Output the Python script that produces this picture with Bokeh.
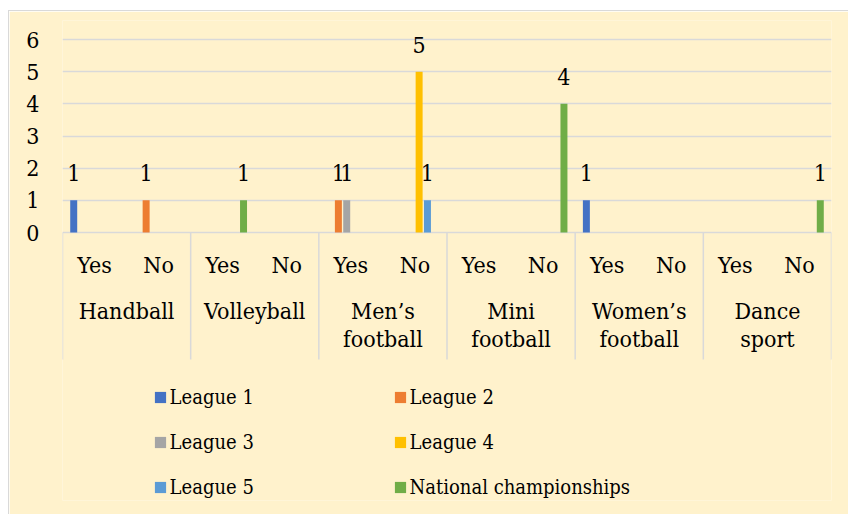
from bokeh.plotting import figure
from bokeh.models import ColumnDataSource, FactorRange, Legend, LegendItem, Range1d
from bokeh.transform import dodge
from bokeh.core.properties import value
from bokeh.embed import file_html
from bokeh.resources import INLINE

# ---------------- data ----------------
sports = ["Handball", "Volleyball", "Men’s football", "Mini football",
          "Women’s football", "Dance sport"]
sport_labels = ["Handball", "Volleyball", "Men’s\nfootball", "Mini\nfootball",
                "Women’s\nfootball", "Dance\nsport"]
answers = ["Yes", "No"]

series_names = ["League 1", "League 2", "League 3", "League 4", "League 5",
                "National championships"]
series_colors = ["#4472C4", "#ED7D31", "#A5A5A5", "#FFC000", "#5B9BD5", "#70AD47"]

#            Handball  Volleyball  Men's fb   Mini fb    Women's fb  Dance
league_1 = [1, 0,     0, 0,       0, 0,      0, 0,      1, 0,       0, 0]
league_2 = [0, 1,     0, 0,       1, 0,      0, 0,      0, 0,       0, 0]
league_3 = [0, 0,     0, 0,       1, 0,      0, 0,      0, 0,       0, 0]
league_4 = [0, 0,     0, 0,       0, 5,      0, 0,      0, 0,       0, 0]
league_5 = [0, 0,     0, 0,       0, 1,      0, 0,      0, 0,       0, 0]
national = [0, 0,     1, 0,       0, 0,      0, 4,      0, 0,       0, 1]
series_values = [league_1, league_2, league_3, league_4, league_5, national]

y_ticks = [0, 1, 2, 3, 4, 5, 6]

# ---------------- styling / layout ----------------
FONT = "DejaVu Serif Condensed, DejaVu Serif"
FS_MAIN = "23px"
FS_LEGEND = "20px"
BG = "#FFF2CC"
GRID = "#D9D9D9"
TXT = "#000000"

PX = 193 / 6.0                  # pixels per value unit
Y_TOP = (232 - 20) / PX
Y_BOTTOM = -(500 - 232) / PX
Y_SUB = -(264 - 232) / PX       # centre of Yes/No
Y_GROUP = -(297 - 232) / PX     # top of group labels
Y_DIV = -(359 - 232) / PX       # bottom of divider lines

BAR_STEP = 0.13
BAR_W = 0.109

factors = [(s, a) for s in sports for a in answers]

p = figure(width=840, height=504,
           x_range=FactorRange(*factors, factor_padding=0, subgroup_padding=0,
                               group_padding=0, range_padding=0),
           y_range=Range1d(Y_BOTTOM, Y_TOP),
           output_backend="svg", toolbar_location=None, x_axis_location=None,
           min_border_left=53, min_border_right=18, min_border_top=9,
           min_border_bottom=15)
p.styles = {"margin-left": "8px", "margin-top": "10px",
            "border-left": "1px solid #D9D9D9", "border-top": "1px solid #D9D9D9"}
p.background_fill_color = BG
p.border_fill_color = BG
p.outline_line_color = None

p.xgrid.visible = False
p.ygrid.ticker = y_ticks
p.ygrid.grid_line_color = GRID
p.ygrid.grid_line_width = 1.5

yax = p.yaxis[0]
yax.ticker = y_ticks
yax.axis_line_color = None
yax.major_tick_line_color = None
yax.minor_tick_line_color = None
yax.major_tick_out = 0
yax.major_label_standoff = 23
yax.major_label_text_font = FONT
yax.major_label_text_font_size = FS_MAIN
yax.major_label_text_color = TXT

# divider lines of the category axis
div_src = ColumnDataSource(dict(s=sports))
p.segment(x0=dodge("s", -1.0, range=p.x_range), y0=0,
          x1=dodge("s", -1.0, range=p.x_range), y1=Y_DIV,
          source=div_src, line_color=GRID, line_width=1.5)
end_src = ColumnDataSource(dict(s=[sports[-1]]))
p.segment(x0=dodge("s", 1.0, range=p.x_range), y0=0,
          x1=dodge("s", 1.0, range=p.x_range), y1=Y_DIV,
          source=end_src, line_color=GRID, line_width=1.5)

# bars and data labels
renderers = []
for k, (name, vals, color) in enumerate(zip(series_names, series_values, series_colors)):
    off = (k - 2.5) * BAR_STEP
    src = ColumnDataSource(dict(x=factors, top=vals))
    r = p.vbar(x=dodge("x", off, range=p.x_range), top="top", bottom=0,
               width=BAR_W, source=src, fill_color=color, line_color=None)
    renderers.append(r)
    lx = [f for f, v in zip(factors, vals) if v > 0]
    lv = [v for v in vals if v > 0]
    lsrc = ColumnDataSource(dict(x=lx, y=lv, t=[str(v) for v in lv]))
    p.text(x=dodge("x", off, range=p.x_range), y="y", text="t", source=lsrc,
           y_offset=-27, text_align="center", text_baseline="middle",
           text_font=value(FONT), text_font_size=FS_MAIN, text_color=TXT)

# category labels
sub_src = ColumnDataSource(dict(x=factors, t=[a for s in sports for a in answers]))
p.text(x="x", y=Y_SUB, text="t", source=sub_src, text_align="center",
       text_baseline="middle", text_font=value(FONT), text_font_size=FS_MAIN,
       text_color=TXT)
grp_src = ColumnDataSource(dict(x=sports, t=sport_labels))
p.text(x="x", y=Y_GROUP, text="t", source=grp_src, text_align="center",
       text_baseline="top", text_font=value(FONT), text_font_size=FS_MAIN,
       text_color=TXT, text_line_height=1.1)

# legend in two columns
def make_legend(idx, loc):
    leg = Legend(items=[LegendItem(label=series_names[i], renderers=[renderers[i]]) for i in idx],
                 location=loc)
    leg.glyph_width = 14
    leg.glyph_height = 14
    leg.label_standoff = 3
    leg.spacing = 21
    leg.padding = 0
    leg.margin = 0
    leg.label_height = 24
    leg.border_line_color = None
    leg.background_fill_alpha = 0
    leg.label_text_font = FONT
    leg.label_text_font_size = FS_LEGEND
    leg.label_text_color = TXT
    return leg

p.add_layout(make_legend([0, 2, 4], (90.6, 1)))
p.add_layout(make_legend([1, 3, 5], (330.6, 1)))

open("out.html", "w").write(file_html(p, INLINE))
